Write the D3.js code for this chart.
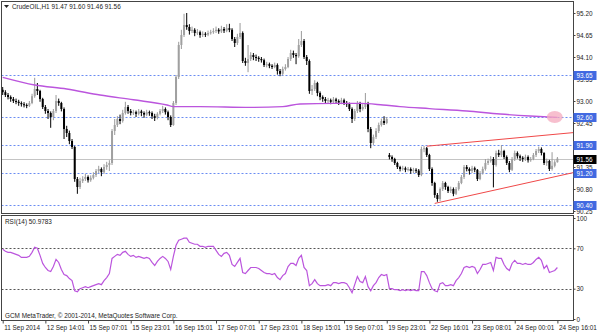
<!DOCTYPE html>
<html>
<head>
<meta charset="utf-8">
<script src="https://cdn.jsdelivr.net/npm/d3@7.9.0/dist/d3.min.js"></script>
<style>
  html, body { margin: 0; padding: 0; background: #fff; }
  svg { display: block; font-family: "Liberation Sans", Arial, sans-serif; }
  .lbl { font-size: 6.4px; fill: #222; }
</style>
</head>
<body>
<svg id="chart" width="600" height="333"></svg>
<script>
// ---- data (hourly bars, 11 Sep -> 24 Sep 2014) ----
const symbol = 'CrudeOIL,H1';

const open = [
  93.28, 93.22, 93.15, 93.10, 93.05, 93.00, 92.98, 92.95, 92.92, 92.90,
  92.88, 92.95, 93.12, 93.30, 93.25, 93.05, 92.85, 92.75, 92.70, 92.60,
  92.75, 93.00, 92.95, 92.80, 92.30, 92.20, 92.00, 91.85, 91.05, 90.85,
  91.00, 91.05, 91.10, 91.02, 91.08, 91.15, 91.25, 91.30, 91.22, 91.35,
  91.40, 91.45, 92.25, 92.40, 92.55, 92.50, 92.70, 92.85, 92.75, 92.70,
  92.72, 92.68, 92.74, 92.70, 92.66, 92.72, 92.70, 92.62, 92.58, 92.68,
  92.75, 92.80, 92.72, 92.60, 92.40, 92.95, 93.60, 94.40, 94.65, 94.90,
  94.85, 94.75, 94.78, 94.70, 94.72, 94.65, 94.68, 94.66, 94.70, 94.72,
  94.75, 94.78, 94.74, 94.80, 94.76, 94.82, 94.78, 94.55, 94.45, 94.60,
  94.70, 94.00, 93.95, 94.05, 94.15, 94.10, 94.08, 94.05, 94.02, 93.90,
  93.92, 93.88, 93.85, 93.90, 93.75, 93.68, 93.80, 93.85, 94.05, 94.20,
  94.15, 94.12, 94.40, 94.50, 94.10, 94.00, 93.25, 93.30, 93.45, 93.20,
  93.10, 93.05, 93.00, 93.02, 92.98, 93.04, 93.00, 92.96, 93.02, 92.95,
  92.92, 92.80, 92.55, 92.75, 92.95, 92.80, 92.85, 92.95, 92.30, 91.95,
  92.10, 92.25, 92.40, 92.50, 92.45, 91.65, 91.60, 91.55, 91.45, 91.35,
  91.30, 91.32, 91.28, 91.30, 91.25, 91.28, 91.26, 91.15, 91.80, 91.82,
  91.65, 91.30, 90.95, 90.65, 90.55, 90.80, 90.95, 90.85, 90.75, 90.80,
  90.68, 90.80, 90.95, 91.10, 91.35, 91.30, 91.25, 91.32, 91.28, 91.05,
  91.20, 91.30, 91.45, 91.50, 91.55, 91.40, 91.70, 91.65, 91.75, 91.60,
  91.45, 91.28, 91.55, 91.70, 91.62, 91.58, 91.55, 91.60, 91.52, 91.55,
  91.65, 91.75, 91.80, 91.70, 91.45, 91.50, 91.30, 91.38, 91.47
];
const high = [
  93.35, 93.27, 93.20, 93.14, 93.10, 93.06, 93.03, 92.99, 92.97, 92.94,
  93.00, 93.18, 93.58, 93.45, 93.28, 93.08, 92.90, 92.80, 92.74, 92.80,
  93.15, 93.06, 92.98, 92.84, 92.38, 92.26, 92.05, 91.88, 91.10, 91.08,
  91.12, 91.18, 91.14, 91.14, 91.22, 91.30, 91.38, 91.34, 91.42, 91.48,
  91.52, 92.30, 92.55, 92.62, 92.66, 92.78, 92.98, 92.90, 92.80, 92.78,
  92.76, 92.80, 92.78, 92.74, 92.78, 92.76, 92.74, 92.68, 92.72, 92.80,
  92.88, 92.84, 92.76, 92.64, 93.00, 93.65, 94.48, 94.78, 95.18, 95.20,
  94.92, 94.86, 94.82, 94.80, 94.76, 94.74, 94.72, 94.76, 94.78, 94.82,
  94.86, 94.82, 94.88, 94.85, 94.92, 94.93, 94.82, 94.60, 94.68, 94.95,
  94.74, 94.08, 94.40, 94.22, 94.20, 94.16, 94.12, 94.10, 94.06, 93.98,
  93.96, 93.92, 93.96, 93.94, 93.80, 93.86, 93.92, 94.10, 94.28, 94.26,
  94.20, 94.55, 94.75, 94.55, 94.15, 94.04, 93.40, 93.52, 93.48, 93.24,
  93.14, 93.10, 93.08, 93.06, 93.10, 93.08, 93.04, 93.08, 93.06, 93.00,
  92.96, 92.84, 92.80, 93.00, 92.98, 92.92, 93.20, 92.98, 92.35, 92.16,
  92.32, 92.46, 92.56, 92.62, 92.60, 91.70, 91.64, 91.58, 91.48, 91.38,
  91.38, 91.36, 91.35, 91.34, 91.33, 91.32, 91.30, 91.86, 91.88, 91.85,
  91.68, 91.34, 90.98, 90.70, 90.84, 91.00, 90.98, 90.88, 90.86, 90.84,
  90.85, 91.00, 91.15, 91.40, 91.40, 91.34, 91.38, 91.36, 91.30, 91.25,
  91.36, 91.55, 91.56, 91.62, 91.60, 91.76, 91.78, 91.90, 91.78, 91.64,
  91.50, 91.60, 91.76, 91.74, 91.66, 91.62, 91.66, 91.64, 91.60, 91.70,
  91.80, 91.86, 91.84, 91.72, 91.56, 91.53, 91.72, 91.52, 91.60
];
const low = [
  93.15, 93.10, 93.04, 92.98, 92.95, 92.92, 92.88, 92.86, 92.84, 92.82,
  92.85, 92.92, 93.08, 93.15, 92.98, 92.80, 92.68, 92.55, 92.33, 92.52,
  92.70, 92.88, 92.74, 92.05, 92.10, 91.92, 91.80, 90.98, 90.68, 90.80,
  90.95, 91.00, 90.96, 90.98, 91.04, 91.10, 91.20, 91.12, 91.18, 91.28,
  91.25, 91.40, 92.15, 92.35, 92.42, 92.46, 92.66, 92.68, 92.64, 92.65,
  92.60, 92.64, 92.62, 92.58, 92.62, 92.63, 92.55, 92.50, 92.54, 92.64,
  92.70, 92.66, 92.52, 92.35, 92.38, 92.90, 93.55, 94.30, 94.60, 94.78,
  94.66, 94.70, 94.62, 94.65, 94.58, 94.60, 94.60, 94.62, 94.66, 94.68,
  94.70, 94.68, 94.70, 94.70, 94.72, 94.72, 94.50, 94.35, 94.40, 94.55,
  93.95, 93.88, 93.72, 94.00, 94.02, 94.00, 93.98, 93.96, 93.85, 93.84,
  93.82, 93.80, 93.82, 93.66, 93.62, 93.64, 93.76, 93.82, 94.00, 94.08,
  93.92, 94.08, 94.35, 94.05, 93.90, 93.18, 93.15, 93.25, 93.12, 93.02,
  92.98, 92.94, 92.95, 92.92, 92.94, 92.94, 92.90, 92.92, 92.90, 92.85,
  92.75, 92.45, 92.50, 92.70, 92.72, 92.76, 92.80, 92.22, 91.82, 91.90,
  92.05, 92.20, 92.36, 92.40, 92.42, 91.54, 91.48, 91.40, 91.30, 91.24,
  91.26, 91.22, 91.24, 91.18, 91.20, 91.20, 91.10, 91.12, 91.72, 91.60,
  91.25, 90.88, 90.58, 90.48, 90.50, 90.75, 90.78, 90.70, 90.70, 90.62,
  90.65, 90.76, 90.92, 91.05, 91.24, 91.16, 91.20, 91.22, 91.00, 91.02,
  91.16, 91.26, 91.40, 91.46, 90.84, 91.36, 91.60, 91.60, 91.55, 91.40,
  91.22, 91.25, 91.50, 91.56, 91.50, 91.48, 91.50, 91.46, 91.48, 91.52,
  91.60, 91.70, 91.64, 91.40, 91.38, 91.25, 91.26, 91.34, 91.46
];
const close = [
  93.22, 93.15, 93.10, 93.05, 93.00, 92.98, 92.95, 92.92, 92.90, 92.88,
  92.95, 93.12, 93.30, 93.25, 93.05, 92.85, 92.75, 92.70, 92.60, 92.75,
  93.00, 92.95, 92.80, 92.30, 92.20, 92.00, 91.85, 91.05, 90.85, 91.00,
  91.05, 91.10, 91.02, 91.08, 91.15, 91.25, 91.30, 91.22, 91.35, 91.40,
  91.45, 92.25, 92.40, 92.55, 92.50, 92.70, 92.85, 92.75, 92.70, 92.72,
  92.68, 92.74, 92.70, 92.66, 92.72, 92.70, 92.62, 92.58, 92.68, 92.75,
  92.80, 92.72, 92.60, 92.40, 92.95, 93.60, 94.40, 94.65, 94.90, 94.85,
  94.75, 94.78, 94.70, 94.72, 94.65, 94.68, 94.66, 94.70, 94.72, 94.75,
  94.78, 94.74, 94.80, 94.76, 94.82, 94.78, 94.55, 94.45, 94.60, 94.70,
  94.00, 93.95, 94.05, 94.15, 94.10, 94.08, 94.05, 94.02, 93.90, 93.92,
  93.88, 93.85, 93.90, 93.75, 93.68, 93.80, 93.85, 94.05, 94.20, 94.15,
  94.12, 94.40, 94.50, 94.10, 94.00, 93.25, 93.30, 93.45, 93.20, 93.10,
  93.05, 93.00, 93.02, 92.98, 93.04, 93.00, 92.96, 93.02, 92.95, 92.92,
  92.80, 92.55, 92.75, 92.95, 92.80, 92.85, 92.95, 92.30, 91.95, 92.10,
  92.25, 92.40, 92.50, 92.45, 92.55, 91.60, 91.55, 91.45, 91.35, 91.30,
  91.32, 91.28, 91.30, 91.25, 91.28, 91.26, 91.15, 91.80, 91.82, 91.65,
  91.30, 90.95, 90.65, 90.55, 90.80, 90.95, 90.85, 90.75, 90.80, 90.68,
  90.80, 90.95, 91.10, 91.35, 91.30, 91.25, 91.32, 91.28, 91.05, 91.20,
  91.30, 91.45, 91.50, 91.55, 91.40, 91.70, 91.65, 91.75, 91.60, 91.45,
  91.28, 91.55, 91.70, 91.62, 91.58, 91.55, 91.60, 91.52, 91.55, 91.65,
  91.75, 91.80, 91.70, 91.45, 91.50, 91.30, 91.38, 91.47, 91.56
];

// moving average, read at these bar positions
const maBars = [0, 12, 24, 36.5, 49, 61.6, 64, 74, 92.7, 105, 111.5, 124, 134, 142.6, 149, 160, 174, 186.5, 197.7, 208];
const maVals = [93.59, 93.40, 93.30, 93.15, 93.03, 92.90, 92.86, 92.86, 92.84, 92.86, 92.925, 92.94, 92.94, 92.90, 92.86, 92.81, 92.75, 92.675, 92.625, 92.59];

const rsi = [
  69, 67, 66, 66, 65, 64, 63, 61, 61, 61,
  62, 66, 71, 70, 63, 55, 51, 48, 47, 52,
  59, 56, 49, 44, 43, 40, 38, 28, 27, 30,
  31, 32, 31, 32, 33, 34, 35, 34, 38, 41,
  45, 60, 62, 64, 63, 66, 67, 64, 62, 63,
  61, 62, 61, 60, 61, 60, 56, 53, 57, 60,
  62, 60, 57, 49, 62, 73, 78, 79, 80, 80,
  76, 75, 74, 74, 72, 72, 71, 72, 72, 72,
  68, 64, 62, 65, 66, 63, 54, 52, 56, 60,
  46, 45, 48, 51, 51, 51, 50, 48, 46, 45,
  45, 44, 45, 41, 39, 43, 45, 52, 55, 55,
  53, 60, 63, 51, 48, 33, 35, 39, 35, 33,
  33, 33, 34, 33, 36, 36, 35, 36, 36, 35,
  31, 26, 34, 42, 37, 36, 42, 32, 28, 33,
  36, 41, 44, 43, 44, 30, 30, 29, 29, 28,
  29, 28, 29, 28, 29, 28, 28, 47, 47, 43,
  36, 30, 28, 27, 35, 36, 33, 33, 34, 33,
  38, 41, 45, 51, 52, 51, 52, 51, 45, 49,
  54, 54, 55, 56, 48, 61, 60, 60, 54, 50,
  48, 55, 58, 55, 55, 54, 55, 54, 54, 56,
  59, 61, 58, 50, 53, 46, 47, 48, 50.9783
];

const hLevels = [93.65, 92.60, 91.90, 91.20, 90.40];
const lastPrice = 91.56;
const priceTicks = [95.20, 94.65, 94.10, 93.55, 93.00, 92.45, 91.90, 91.35, 90.80, 90.25];
const rsiTicks = [100, 70, 30, 0];
const rsiLevels = [70, 30];
const timeLabels = ['11 Sep 2014', '12 Sep 14:01', '15 Sep 07:01', '15 Sep 23:01', '16 Sep 15:01',
  '17 Sep 07:01', '17 Sep 23:01', '18 Sep 15:01', '19 Sep 07:01', '19 Sep 23:01',
  '22 Sep 16:01', '23 Sep 08:01', '24 Sep 00:01', '24 Sep 16:01'];
const trendUpper = [[159, 91.87], [214, 92.21]];
const trendLower = [[162, 90.44], [214, 91.21]];
const marker = [207, 92.60];

// ---- drawing ----
const svg = d3.select('#chart');
const left = 1.5, right = 573.5;
const maColor = '#bb55dd';

const x = d3.scaleLinear().domain([0, 208]).range([2.7, 557.4]);
const y = d3.scaleLinear().domain([90.25, 95.20]).range([211, 13]);
const yR = d3.scaleLinear().domain([0, 100]).range([319, 218]);
const fmt = d3.format('.2f');

svg.append('rect').attr('width', 600).attr('height', 333).attr('fill', '#fff');

const defs = svg.append('defs');
defs.append('clipPath').attr('id', 'clipMain')
  .append('rect').attr('x', 2).attr('y', 2).attr('width', 571).attr('height', 211);
defs.append('clipPath').attr('id', 'clipRsi')
  .append('rect').attr('x', 2).attr('y', 216).attr('width', 571).attr('height', 104);

const main = svg.append('g').attr('clip-path', 'url(#clipMain)');

// level lines
main.selectAll('line.level').data(hLevels).join('line')
  .attr('class', 'level')
  .attr('x1', left).attr('x2', right)
  .attr('y1', d => Math.round(y(d)) + 0.5).attr('y2', d => Math.round(y(d)) + 0.5)
  .attr('stroke', '#6a8cf2').attr('stroke-dasharray', '2,2');

main.append('line')
  .attr('x1', left).attr('x2', right)
  .attr('y1', Math.round(y(lastPrice)) + 0.5).attr('y2', Math.round(y(lastPrice)) + 0.5)
  .attr('stroke', '#c4c4c4');

// candles
const bars = d3.range(close.length);
const isUp = i => close[i] >= open[i];
const candle = main.append('g').selectAll('g').data(bars).join('g');
candle.append('line')
  .attr('x1', i => x(i)).attr('x2', i => x(i))
  .attr('y1', i => y(high[i])).attr('y2', i => y(low[i]))
  .attr('stroke', i => isUp(i) ? '#9a9a9a' : '#000');
candle.append('rect')
  .attr('x', i => x(i) - 1).attr('width', 2)
  .attr('y', i => y(Math.max(open[i], close[i])))
  .attr('height', i => Math.max(1, Math.abs(y(open[i]) - y(close[i]))))
  .attr('fill', i => isUp(i) ? '#a0a0a0' : '#000');

// moving average
main.append('path')
  .datum(maBars.map((b, k) => [b, maVals[k]]))
  .attr('d', d3.line().x(d => x(d[0])).y(d => y(d[1])).curve(d3.curveMonotoneX))
  .attr('fill', 'none').attr('stroke', maColor).attr('stroke-width', 1.4);

// trend lines
main.selectAll('line.trend').data([trendUpper, trendLower]).join('line')
  .attr('class', 'trend')
  .attr('x1', d => x(d[0][0])).attr('y1', d => y(d[0][1]))
  .attr('x2', d => x(d[1][0])).attr('y2', d => y(d[1][1]))
  .attr('stroke', '#f04848').attr('stroke-width', 1);

main.append('ellipse')
  .attr('cx', x(marker[0])).attr('cy', y(marker[1]))
  .attr('rx', 8).attr('ry', 6)
  .attr('fill', '#f4a9be').attr('opacity', 0.75);

// RSI panel
const sub = svg.append('g').attr('clip-path', 'url(#clipRsi)');
sub.selectAll('line').data(rsiLevels).join('line')
  .attr('x1', left).attr('x2', right)
  .attr('y1', d => Math.round(yR(d)) + 0.5).attr('y2', d => Math.round(yR(d)) + 0.5)
  .attr('stroke', '#555').attr('stroke-dasharray', '2,2');
sub.append('path')
  .datum(rsi)
  .attr('d', d3.line().x((d, i) => x(i)).y(d => yR(d)))
  .attr('fill', 'none').attr('stroke', maColor).attr('stroke-width', 1.2);

// frames
svg.append('rect').attr('x', left).attr('y', 1.5).attr('width', right - left).attr('height', 212)
  .attr('fill', 'none').attr('stroke', '#444');
svg.append('rect').attr('x', left).attr('y', 215.5).attr('width', right - left).attr('height', 105)
  .attr('fill', 'none').attr('stroke', '#444');

// axes
function styleAxis(g) {
  g.attr('font-size', null).attr('font-family', null);
  g.select('.domain').remove();
  g.selectAll('line').attr('stroke', '#444');
  g.selectAll('text').attr('class', 'lbl').attr('fill', null);
}

svg.append('g').attr('transform', `translate(${right},0)`)
  .call(d3.axisRight(y).tickValues(priceTicks).tickSize(2).tickSizeOuter(0).tickPadding(1).tickFormat(fmt))
  .call(styleAxis);

svg.append('g').attr('transform', `translate(${right},0)`)
  .call(d3.axisRight(yR).tickValues(rsiTicks).tickSize(2).tickSizeOuter(0).tickPadding(1).tickFormat(d3.format('d')))
  .call(styleAxis);

svg.append('g').attr('transform', 'translate(0,320.5)')
  .call(d3.axisBottom(x).tickValues(d3.range(0, close.length, 16)).tickSize(3).tickSizeOuter(0).tickPadding(2)
    .tickFormat((d, k) => timeLabels[k]))
  .call(styleAxis)
  .call(g => g.selectAll('text').attr('text-anchor', 'start').attr('x', 1));

// level price labels
const tag = svg.append('g').selectAll('g').data(hLevels).join('g')
  .attr('transform', d => `translate(${right},${Math.round(y(d)) + 0.5})`);
tag.append('rect').attr('x', 0).attr('y', -4.5).attr('width', 23).attr('height', 9).attr('fill', '#4169e1');
tag.append('text').attr('class', 'lbl').attr('x', 3).attr('dy', '0.35em').style('fill', '#fff').text(fmt);

const bid = svg.append('g').attr('transform', `translate(${right},${Math.round(y(lastPrice)) + 0.5})`);
bid.append('rect').attr('x', 0).attr('y', -4.5).attr('width', 23).attr('height', 9).attr('fill', '#000');
bid.append('text').attr('class', 'lbl').attr('x', 3).attr('dy', '0.35em').style('fill', '#fff').text(fmt(lastPrice));

// header texts
const last = close.length - 1;
svg.append('path').attr('d', 'M4,5 L9,5 L6.5,8 Z').attr('fill', '#222');
svg.append('text').attr('class', 'lbl').attr('x', 12).attr('y', 9)
  .text(`${symbol}  ${fmt(open[last])} ${fmt(high[last])} ${fmt(low[last])} ${fmt(close[last])}`);
svg.append('text').attr('class', 'lbl').attr('x', 5).attr('y', 223.5)
  .text(`RSI(14) ${rsi[last].toFixed(4)}`);
svg.append('text').attr('class', 'lbl').attr('x', 5).attr('y', 318)
  .text('GCM MetaTrader, © 2001-2014, MetaQuotes Software Corp.');
</script>
</body>
</html>
